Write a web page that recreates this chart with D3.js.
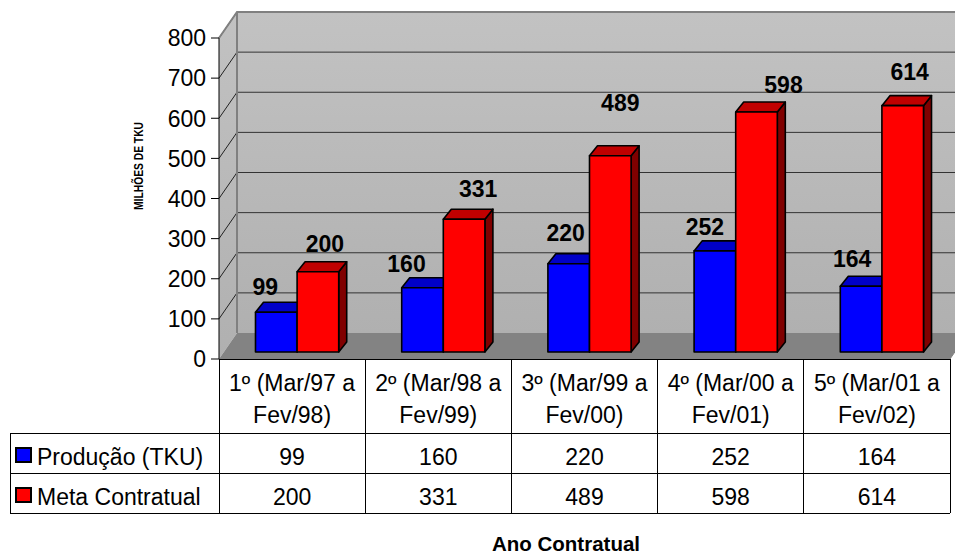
<!DOCTYPE html>
<html>
<head>
<meta charset="utf-8">
<script src="https://cdn.jsdelivr.net/npm/d3@7"></script>
<style>
  body { margin: 0; background: #fff; }
  svg { display: block; }
  text { font-family: "Liberation Sans", Arial, Helvetica, sans-serif; fill: #000; }
</style>
</head>
<body>
<svg id="chart" width="955" height="554"></svg>
<script>
// ---- data ----
const categories = [
  ["1º (Mar/97 a", "Fev/98)"],
  ["2º (Mar/98 a", "Fev/99)"],
  ["3º (Mar/99 a", "Fev/00)"],
  ["4º (Mar/00 a", "Fev/01)"],
  ["5º (Mar/01 a", "Fev/02)"]
];
const seriesNames = ["Produção (TKU)", "Meta Contratual"];
const producao = [99, 160, 220, 252, 164];
const meta = [200, 331, 489, 598, 614];
const yTicks = [0, 100, 200, 300, 400, 500, 600, 700, 800];
const yTitle = "MILHÕES DE TKU";
const xTitle = "Ano Contratual";

// hand-placed nudges for the value labels (dx, dy in px) so they clear the bars
const labelNudgeProducao = [[-15, -1], [-20, 0], [-7, -7], [-14, 0], [-13, -3]];
const labelNudgeMeta = [[3, -4], [10, -6], [6, -29], [23, -3], [3, -10]];

// ---- styling ----
const seriesValues = [producao, meta];
const nudges = [labelNudgeProducao, labelNudgeMeta];
const faceColors = [
  { front: "#0000ff", top: "#0000c8", side: "#000080" },
  { front: "#ff0000", top: "#c00000", side: "#800000" }
];
const FONT = 23;

// ---- geometry ----
const plotLeft = 219, plotRight = 950, plotBottom = 359, plotTop = 38;
const DX = 18, DY = -26;          // wall depth
const BX = 5, BY = -7;            // bar front plane inside the floor
const BDX = 8, BDY = -10;         // bar depth

const svg = d3.select("#chart");

const y = d3.scaleLinear().domain([0, 800]).range([plotBottom, plotTop]);
const x0 = d3.scaleBand().domain(d3.range(categories.length)).range([plotLeft, plotRight]);
const x1 = d3.scaleBand().domain(d3.range(seriesNames.length))
  .range([0, x0.bandwidth()]).paddingInner(0).paddingOuter(0.757);

const pts = a => a.map(p => p.join(",")).join(" ");

// wall gradient
const defs = svg.append("defs");
const grad = defs.append("linearGradient").attr("id", "wallGrad")
  .attr("x1", 0).attr("y1", 0).attr("x2", 0).attr("y2", 1);
grad.append("stop").attr("offset", "0%").attr("stop-color", "#c2c2c2");
grad.append("stop").attr("offset", "100%").attr("stop-color", "#b0b0b0");

const backTop = y(800) + DY, backBottom = y(0) + DY, backLeft = plotLeft + DX;

// back wall
svg.append("rect")
  .attr("x", backLeft).attr("y", backTop)
  .attr("width", 960 - backLeft).attr("height", backBottom - backTop)
  .attr("fill", "url(#wallGrad)");
// side wall
svg.append("polygon")
  .attr("points", pts([[plotLeft, y(800)], [backLeft, backTop], [backLeft, backBottom], [plotLeft, y(0)]]))
  .attr("fill", "url(#wallGrad)");

// gridlines on back wall and side wall
yTicks.filter(t => t > 0 && t < 800).forEach(t => {
  svg.append("line")
    .attr("x1", backLeft).attr("x2", 960)
    .attr("y1", y(t) + DY).attr("y2", y(t) + DY)
    .attr("stroke", "#333").attr("stroke-width", 1);
});
yTicks.filter(t => t > 0).forEach(t => {
  svg.append("line")
    .attr("x1", plotLeft).attr("y1", y(t))
    .attr("x2", backLeft).attr("y2", y(t) + DY)
    .attr("stroke", "#222").attr("stroke-width", 1);
});

// floor
svg.append("polygon")
  .attr("points", pts([[plotLeft, y(0)], [backLeft, backBottom], [plotRight + DX, backBottom], [plotRight, y(0)]]))
  .attr("fill", "#838383");

// wall borders
svg.append("path")
  .attr("d", `M${plotLeft},${y(800)} L${backLeft},${backTop} L960,${backTop} M${backLeft},${backTop} L${backLeft},${backBottom}`)
  .attr("fill", "none").attr("stroke", "#808080").attr("stroke-width", 2);

// y axis
const yAxisG = svg.append("g");
yAxisG.append("line")
  .attr("x1", plotLeft).attr("x2", plotLeft)
  .attr("y1", y(800)).attr("y2", y(0))
  .attr("stroke", "#000").attr("stroke-width", 1);
yTicks.forEach(t => {
  yAxisG.append("line")
    .attr("x1", plotLeft - 8).attr("x2", plotLeft)
    .attr("y1", y(t)).attr("y2", y(t))
    .attr("stroke", "#000").attr("stroke-width", 1);
  yAxisG.append("text")
    .attr("x", plotLeft - 13).attr("y", y(t)).attr("dy", "0.36em")
    .attr("text-anchor", "end").attr("font-size", FONT)
    .text(t);
});

// y title (condensed bold)
svg.append("text")
  .attr("transform", "translate(143,166) rotate(-90)")
  .attr("text-anchor", "middle").attr("font-size", 13.5).attr("font-weight", "bold")
  .attr("textLength", 88).attr("lengthAdjust", "spacingAndGlyphs")
  .text(yTitle);

// bars (3D boxes)
const barsG = svg.append("g");
categories.forEach((c, i) => {
  seriesValues.forEach((vals, s) => {
    const v = vals[i];
    const xl = x0(i) + x1(s) + BX;
    const w = x1.bandwidth();
    const xr = xl + w;
    const yt = y(v) + BY;
    const yb = y(0) + BY;
    const col = faceColors[s];
    const g = barsG.append("g")
      .attr("stroke", "#000").attr("stroke-width", 1.6).attr("stroke-linejoin", "round");
    g.append("polygon")
      .attr("points", pts([[xr, yt], [xr + BDX, yt + BDY], [xr + BDX, yb + BDY], [xr, yb]]))
      .attr("fill", col.side);
    g.append("polygon")
      .attr("points", pts([[xl, yt], [xl + BDX, yt + BDY], [xr + BDX, yt + BDY], [xr, yt]]))
      .attr("fill", col.top);
    g.append("rect")
      .attr("x", xl).attr("y", yt).attr("width", w).attr("height", yb - yt)
      .attr("fill", col.front);
  });
});

// value labels
categories.forEach((c, i) => {
  seriesValues.forEach((vals, s) => {
    const v = vals[i];
    const cx = x0(i) + x1(s) + BX + x1.bandwidth() / 2 + BDX / 2;
    const by = y(v) + BY + BDY - 6;
    const [ndx, ndy] = nudges[s][i];
    svg.append("text")
      .attr("x", cx + ndx).attr("y", by + ndy)
      .attr("text-anchor", "middle")
      .attr("font-size", FONT).attr("font-weight", "bold")
      .text(v);
  });
});

// ---- data table ----
const tableLeft = 10;
const rowTops = [plotBottom, 433, 473, 513];
const tbl = svg.append("g").attr("stroke", "#000").attr("stroke-width", 1).attr("shape-rendering", "crispEdges");
// horizontal rules
tbl.append("line").attr("x1", plotLeft).attr("x2", plotRight).attr("y1", rowTops[0]).attr("y2", rowTops[0]);
[1, 2, 3].forEach(r => tbl.append("line")
  .attr("x1", tableLeft).attr("x2", plotRight).attr("y1", rowTops[r]).attr("y2", rowTops[r]));
// vertical rules
tbl.append("line").attr("x1", tableLeft).attr("x2", tableLeft).attr("y1", rowTops[1]).attr("y2", rowTops[3]);
d3.range(categories.length + 1).forEach(i => {
  const xx = i < categories.length ? x0(i) : plotRight;
  tbl.append("line").attr("x1", xx).attr("x2", xx).attr("y1", rowTops[0]).attr("y2", rowTops[3]);
});
// right corner of floor edge
svg.append("line")
  .attr("x1", plotRight).attr("y1", y(0)).attr("x2", plotRight + DX).attr("y2", backBottom)
  .attr("stroke", "#808080").attr("stroke-width", 1);

// category header cells
categories.forEach((c, i) => {
  const cx = x0(i) + x0.bandwidth() / 2;
  c.forEach((line, k) => {
    svg.append("text")
      .attr("x", cx).attr("y", 391 + k * 31.7)
      .attr("text-anchor", "middle").attr("font-size", FONT)
      .text(line);
  });
});

// value rows + legend keys
const rowBaselines = [465, 505];
seriesValues.forEach((vals, s) => {
  svg.append("rect")
    .attr("x", 16).attr("y", rowBaselines[s] - 17).attr("width", 15).attr("height", 14)
    .attr("fill", faceColors[s].front).attr("stroke", "#000").attr("stroke-width", 2);
  svg.append("text")
    .attr("x", 37).attr("y", rowBaselines[s])
    .attr("font-size", FONT)
    .text(seriesNames[s]);
  vals.forEach((v, i) => {
    svg.append("text")
      .attr("x", x0(i) + x0.bandwidth() / 2).attr("y", rowBaselines[s])
      .attr("text-anchor", "middle").attr("font-size", FONT)
      .text(v);
  });
});

// x title
svg.append("text")
  .attr("x", 566).attr("y", 551)
  .attr("text-anchor", "middle").attr("font-size", 20.5).attr("font-weight", "bold")
  .text(xTitle);
</script>
</body>
</html>
